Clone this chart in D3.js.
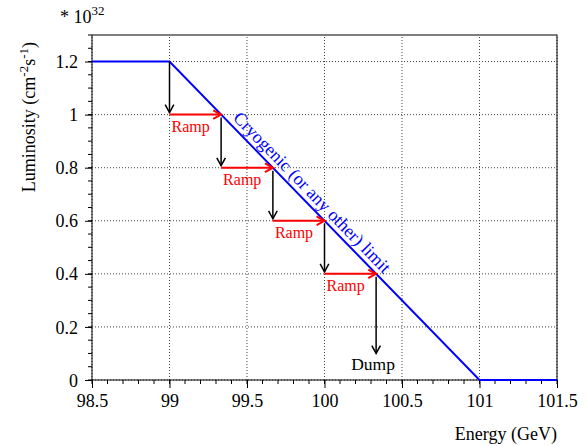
<!DOCTYPE html>
<html><head><meta charset="utf-8">
<script src="https://cdn.jsdelivr.net/npm/d3@7"></script>
<style>
html,body{margin:0;padding:0;background:#fff;}
text{font-family:"Liberation Serif","Times New Roman",serif;}
</style></head>
<body>
<svg id="c" width="588" height="446"></svg>
<script>
// ---- data ----
const xTicks = [98.5, 99, 99.5, 100, 100.5, 101, 101.5];
const xTickLabels = ["98.5", "99", "99.5", "100", "100.5", "101", "101.5"];
const yTicks = [0, 0.2, 0.4, 0.6, 0.8, 1, 1.2];
const yTickLabels = ["0", "0.2", "0.4", "0.6", "0.8", "1", "1.2"];
const limitEnergy = [98.5, 99, 101, 101.5];
const limitLumi = [1.2, 1.2, 0, 0];
const stepEnergy = [99, 99.333, 99.667, 100, 100.333];
const stepLumi = [1.2, 1.0, 0.8, 0.6, 0.4];
const dumpLumi = 0.1;
const limitLabel = "Cryogenic (or any other) limit";

// ---- layout ----
const svg = d3.select("#c");
const L = 92, R = 557, T = 35, B = 380;
const x = d3.scaleLinear().domain([98.5, 101.5]).range([L, R]);
const y = d3.scaleLinear().domain([0, 1.3]).range([B, T]);

// grid
const g = svg.append("g");
g.selectAll(".gx").data(xTicks).enter().append("line")
  .attr("x1", d => x(d)).attr("x2", d => x(d)).attr("y1", B).attr("y2", T)
  .attr("stroke", "#444").attr("stroke-width", 1).attr("stroke-dasharray", "1,2");
g.selectAll(".gy").data(yTicks).enter().append("line")
  .attr("x1", L).attr("x2", R).attr("y1", d => y(d)).attr("y2", d => y(d))
  .attr("stroke", "#444").attr("stroke-width", 1).attr("stroke-dasharray", "1,2");

// axes
const xAxis = d3.axisBottom(x).tickValues(xTicks).tickFormat((d, i) => xTickLabels[i]).tickSize(8).tickPadding(6);
const xa = svg.append("g").attr("transform", `translate(0,${B})`).call(xAxis);
const xMinor = d3.range(98.5, 101.5001, 0.1);
svg.append("g").selectAll("line").data(xMinor).enter().append("line")
  .attr("x1", d => x(d)).attr("x2", d => x(d)).attr("y1", B).attr("y2", B + 4)
  .attr("stroke", "#000");
const yAxis = d3.axisLeft(y).tickValues(yTicks).tickFormat((d, i) => yTickLabels[i]).tickSize(7).tickPadding(7);
const ya = svg.append("g").attr("transform", `translate(${L},0)`).call(yAxis);
const yMinor = d3.range(0, 1.3001, 0.05);
svg.append("g").selectAll("line").data(yMinor).enter().append("line")
  .attr("x1", L - 4).attr("x2", L).attr("y1", d => y(d)).attr("y2", d => y(d))
  .attr("stroke", "#000");
[xa, ya].forEach(a => {
  a.select(".domain").remove();
  a.selectAll("text").attr("font-size", 18).attr("fill", "#000");
});
ya.selectAll("text").attr("dy", "0.34em");
// frame
svg.append("rect").attr("x", L).attr("y", T).attr("width", R - L).attr("height", B - T)
  .attr("fill", "none").attr("stroke", "#000").attr("stroke-width", 1);

// limit line
const line = d3.line().x(d => x(d[0])).y(d => y(d[1]));
svg.append("path").datum(limitEnergy.map((e, i) => [e, limitLumi[i]]))
  .attr("d", line).attr("fill", "none").attr("stroke", "#0000ff").attr("stroke-width", 2);

// arrows
function arrow(x1, y1, x2, y2, color, w) {
  const gg = svg.append("g").attr("stroke", color).attr("stroke-width", w).attr("fill", "none");
  gg.append("line").attr("x1", x1).attr("y1", y1).attr("x2", x2).attr("y2", y2);
  const ang = Math.atan2(y2 - y1, x2 - x1), len = 9, sp = 0.5;
  gg.append("path").attr("d",
    `M${x2 - len * Math.cos(ang - sp)},${y2 - len * Math.sin(ang - sp)}L${x2},${y2}L${x2 - len * Math.cos(ang + sp)},${y2 - len * Math.sin(ang + sp)}`);
}
for (let i = 0; i < stepEnergy.length - 1; i++) {
  arrow(x(stepEnergy[i]), y(stepLumi[i]) + (i === 0 ? 0 : 3), x(stepEnergy[i]), y(stepLumi[i + 1]) - 2, "#000", 1.5);
  arrow(x(stepEnergy[i]), y(stepLumi[i + 1]), x(stepEnergy[i + 1]), y(stepLumi[i + 1]), "#ff0000", 2);
  svg.append("text").attr("x", x(stepEnergy[i]) + 2).attr("y", y(stepLumi[i + 1]) + 17)
    .attr("font-size", 16).attr("fill", "#ff0000").text("Ramp");
}
const last = stepEnergy.length - 1;
arrow(x(stepEnergy[last]), y(stepLumi[last]) + 3, x(stepEnergy[last]), y(dumpLumi), "#000", 1.5);
svg.append("text").attr("x", x(stepEnergy[last]) - 3).attr("y", y(dumpLumi) + 17)
  .attr("text-anchor", "middle").attr("font-size", 17.5).attr("fill", "#000").text("Dump");

// rotated label along line
const eMid = 99.87, lMid = 1.2 - 0.6 * (eMid - 99);
const ang = Math.atan2(y(0) - y(1.2), x(101) - x(99)) * 180 / Math.PI;
svg.append("text")
  .attr("transform", `translate(${x(eMid)},${y(lMid)}) rotate(${ang})`)
  .attr("y", -5).attr("text-anchor", "middle").attr("font-size", 18).attr("fill", "#0000ff")
  .text(limitLabel);

// axis titles
svg.append("text").attr("x", R).attr("y", 440).attr("text-anchor", "end")
  .attr("font-size", 18).attr("fill", "#000").text("Energy (GeV)");
const yt = svg.append("text").attr("transform", "translate(35,42) rotate(-90)")
  .attr("text-anchor", "end").attr("font-size", 18).attr("fill", "#000");
yt.append("tspan").text("Luminosity (cm");
yt.append("tspan").attr("dy", -7).attr("font-size", 13).text("-2");
yt.append("tspan").attr("dy", 7).text("s");
yt.append("tspan").attr("dy", -7).attr("font-size", 13).text("-1");
yt.append("tspan").attr("dy", 7).text(")");
const ex = svg.append("text").attr("x", 60).attr("y", 23).attr("font-size", 18).attr("fill", "#000");
ex.append("tspan").text("* 10");
ex.append("tspan").attr("dy", -8).attr("font-size", 13).text("32");
</script>
</body></html>
